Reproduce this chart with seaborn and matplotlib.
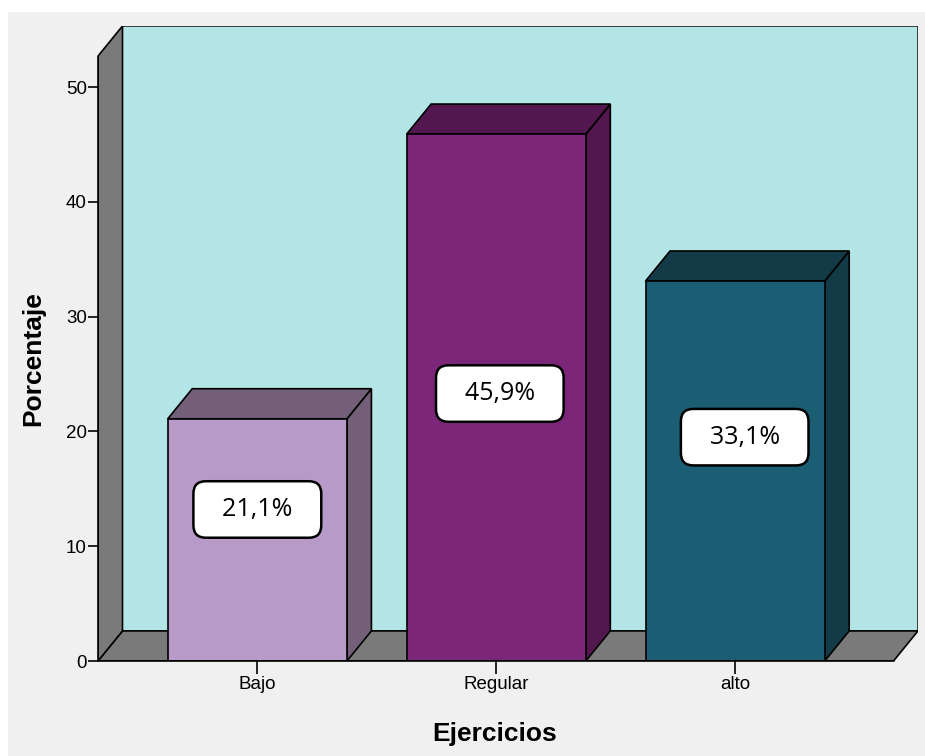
import matplotlib
matplotlib.use("Agg")
import matplotlib.pyplot as plt
import seaborn as sns
import pandas as pd
from matplotlib.patches import Polygon, Rectangle

# Datos
categorias = ["Bajo", "Regular", "alto"]
porcentajes = [21.1, 45.9, 33.1]
etiquetas = ["21,1%", "45,9%", "33,1%"]
yticks = [0, 10, 20, 30, 40, 50]

# Colores (frente, lado/tapa)
color_frente = ["#b89ac8", "#7b2678", "#1b5e73"]
color_lado = ["#736078", "#52174f", "#123a47"]

df = pd.DataFrame({"Ejercicios": categorias, "Porcentaje": porcentajes})

# Geometria de la perspectiva
ancho = 0.75
dx, dy = 0.1025, 2.62
x_izq, x_der = -0.667, 2.663
y_top = 52.7

sns.set_style("white")
plt.rcParams["font.family"] = ["Liberation Sans", "DejaVu Sans"]
plt.rcParams["text.color"] = "black"
plt.rcParams["axes.labelcolor"] = "black"
plt.rcParams["xtick.color"] = "black"
plt.rcParams["ytick.color"] = "black"

fig = plt.figure(figsize=(9.25, 7.56), dpi=100)
fig.patch.set_facecolor("white")
fig.add_artist(Rectangle((8 / 925, 0), 1, 1 - 12 / 756, transform=fig.transFigure,
                         facecolor="#f0f0f0", edgecolor="none", zorder=-10))
ax = fig.add_axes([98 / 925, 1 - 661 / 756, 820 / 925, 635 / 756])
ax.patch.set_alpha(0)

# Pared trasera, piso y pared izquierda
ax.add_patch(Polygon([(x_izq + dx, dy), (x_der + dx, dy), (x_der + dx, y_top + dy),
                      (x_izq + dx, y_top + dy)], closed=True, facecolor="#b3e5e7",
                     edgecolor="#222222", lw=1.2, zorder=0))
ax.add_patch(Polygon([(x_izq, 0), (x_der, 0), (x_der + dx, dy), (x_izq + dx, dy)],
                     closed=True, facecolor="#7a7a7a", edgecolor="black", lw=1.2, zorder=1))
ax.add_patch(Polygon([(x_izq, 0), (x_izq, y_top), (x_izq + dx, y_top + dy), (x_izq + dx, dy)],
                     closed=True, facecolor="#7a7a7a", edgecolor="black", lw=1.2, zorder=1))

# Barras (caras frontales)
sns.barplot(data=df, x="Ejercicios", y="Porcentaje", hue="Ejercicios",
            palette=color_frente, saturation=1, width=ancho, edgecolor="black",
            linewidth=1.2, legend=False, ax=ax, zorder=3)

# Lados y tapas de las barras
for i, h in enumerate(porcentajes):
    x0, x1 = i - ancho / 2, i + ancho / 2
    ax.add_patch(Polygon([(x1, 0), (x1 + dx, dy), (x1 + dx, h + dy), (x1, h)], closed=True,
                         facecolor=color_lado[i], edgecolor="black", lw=1.2, zorder=2))
    ax.add_patch(Polygon([(x0, h), (x0 + dx, h + dy), (x1 + dx, h + dy), (x1, h)], closed=True,
                         facecolor=color_lado[i], edgecolor="black", lw=1.2, zorder=2))

# Etiquetas
label_y = [13.2, 23.3, 19.5]
label_dx = [0.0, 0.015, 0.04]
for i, txt in enumerate(etiquetas):
    ax.text(i + label_dx[i], label_y[i], "  " + txt + "  ", ha="center", va="center",
            fontsize=18, family=["Open Sans", "DejaVu Sans"], zorder=5,
            bbox=dict(boxstyle="round,pad=0.63,rounding_size=0.5", facecolor="white",
                      edgecolor="black", lw=1.8))

ax.set_xlim(x_izq, x_der + dx)
ax.set_ylim(0, y_top + dy)
for s in ax.spines.values():
    s.set_visible(False)

# Ejes
ax.plot([x_izq, x_izq], [0, y_top], color="black", lw=1.2, zorder=4, clip_on=False)
ax.plot([x_izq, x_der], [0, 0], color="black", lw=1.2, zorder=4, clip_on=False)
ax.set_yticks(yticks)
ax.set_yticklabels([str(t) for t in yticks], fontsize=13.5)
ax.tick_params(axis="y", left=True, length=7.5, width=1.2, pad=0.5)
ax.tick_params(axis="x", bottom=True, length=9, width=1.2, labelsize=13.5, pad=2)
ax.set_xlabel("Ejercicios", fontsize=19, fontweight="bold", labelpad=21)
ax.set_ylabel("Porcentaje", fontsize=19, fontweight="bold", labelpad=15)
# centrar los titulos sobre la cara frontal
ax.xaxis.label.set_x(0.484)
ax.yaxis.label.set_y(0.4756)

fig.savefig("out.png", dpi=100, facecolor=fig.get_facecolor())
